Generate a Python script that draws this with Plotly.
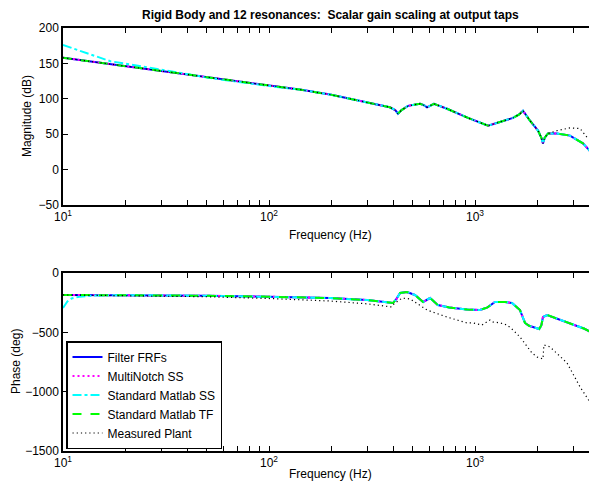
import plotly.graph_objects as go

# ---------------- data ----------------
# Magnitude of the fitted filters (Hz, dB)
f_mag = [10, 20, 50, 100, 141, 198, 286, 340, 386, 410,
         423, 440, 473, 541, 565, 585, 632, 731, 925, 1157,
         1368, 1529, 1640, 1710, 1760, 1849, 2023, 2100, 2138, 2180,
         2262, 2500, 2890, 3343, 3600, 3741, 3850, 3920]
mag_fit = [158, 146, 130, 118, 113, 106, 96, 92, 88, 84,
           79, 84, 90, 93, 91, 88, 93, 86, 73, 62,
           69, 73, 78, 83, 78, 69, 55, 45, 37, 45,
           51, 51, 48, 37, 27, 17, 8, 1]

# Standard Matlab SS deviates at low frequency
f_mag_ss_low = [10, 11, 13, 17, 24, 35]
mag_ss_low = [176, 172, 164, 153, 146, 138]

# Measured plant magnitude
f_mag_meas = [10, 20, 50, 100, 141, 198, 286, 340, 386, 410,
              423, 440, 473, 541, 565, 585, 632, 731, 925, 1157,
              1368, 1529, 1640, 1710, 1760, 1849, 2023, 2100, 2138, 2180,
              2262, 2500, 2890, 3236, 3490, 3820, 3920]
mag_meas = [158, 146, 130, 118, 113, 106, 96, 92, 88, 84,
            79, 84, 90, 93, 91, 88, 93, 86, 73, 62,
            69, 73, 78, 83, 78, 69, 55, 45, 37, 45,
            51, 55, 59, 58, 46, 37, 35]

# Phase of the fitted filters (Hz, deg)
f_ph = [10, 20, 50, 100, 198, 300, 386, 400, 415, 433,
        468, 511, 560, 605, 660, 750, 915, 1057, 1150, 1250,
        1400, 1512, 1653, 1749, 1830, 1914, 2049, 2100, 2138, 2240,
        2500, 2890, 3400, 3920]
ph_fit = [-185, -187, -192, -200, -211, -228, -245, -253, -220, -168,
          -160, -185, -244, -211, -270, -290, -308, -312, -290, -244,
          -245, -253, -312, -421, -445, -455, -472, -440, -371, -354,
          -385, -421, -470, -527]

f_ph_ss_low = [10, 10.5, 11, 12, 14]
ph_ss_low = [-295, -240, -215, -200, -190]

# Measured plant phase
f_ph_meas = [10, 20, 50, 100, 198, 300, 393, 405, 443, 485,
             585, 731, 915, 977, 1081, 1183, 1222, 1322, 1430, 1529,
             1653, 1891, 2000, 2138, 2160, 2313, 2500, 2797, 3236, 3488,
             3741, 3860, 3920]
ph_meas = [-185, -190, -200, -215, -236, -260, -286, -260, -211, -219,
           -312, -371, -421, -421, -438, -396, -413, -420, -438, -480,
           -539, -674, -708, -724, -606, -623, -680, -758, -960, -1045,
           -1129, -1264, -1400]

series_names = ["Filter FRFs", "MultiNotch SS", "Standard Matlab SS",
                "Standard Matlab TF", "Measured Plant"]
x_tick_vals = [10, 20, 30, 40, 50, 60, 70, 80, 90,
               100, 200, 300, 400, 500, 600, 700, 800, 900,
               1000, 2000, 3000]
x_tick_text = ["10<sup>1</sup>"] + [""] * 8 + ["10<sup>2</sup>"] + [""] * 8 + ["10<sup>3</sup>", "", ""]
mag_ticks = [-50, 0, 50, 100, 150, 200]
ph_ticks = [-1500, -1000, -500, 0]

# ---------------- figure ----------------
FONT = "Liberation Sans, Arial, Helvetica, sans-serif"
FS = 12
styles = [
    dict(color="#0000ff", width=2, dash="solid"),
    dict(color="#ff00ff", width=2, dash="2px,3px"),
    dict(color="#00ffff", width=2, dash="dashdot"),
    dict(color="#00ff00", width=2, dash="dash"),
    dict(color="#000000", width=1.2, dash="1.2px,3px"),
]

ss_mag_f = f_mag_ss_low + [f for f in f_mag if f > 35]
ss_mag_v = mag_ss_low + [v for f, v in zip(f_mag, mag_fit) if f > 35]
ss_ph_f = f_ph_ss_low + [f for f in f_ph if f > 14]
ss_ph_v = ph_ss_low + [v for f, v in zip(f_ph, ph_fit) if f > 14]

mag_sets = [(f_mag, mag_fit), (f_mag, mag_fit), (ss_mag_f, ss_mag_v),
            (f_mag, mag_fit), (f_mag_meas, mag_meas)]
ph_sets = [(f_ph, ph_fit), (f_ph, ph_fit), (ss_ph_f, ss_ph_v),
           (f_ph, ph_fit), (f_ph_meas, ph_meas)]

fig = go.Figure()
for name, st, (fx, fy) in zip(series_names, styles, mag_sets):
    fig.add_trace(go.Scatter(x=fx, y=fy, mode="lines", name=name, line=st,
                             xaxis="x", yaxis="y", showlegend=False))
for name, st, (fx, fy) in zip(series_names, styles, ph_sets):
    fig.add_trace(go.Scatter(x=fx, y=fy, mode="lines", name=name, line=st,
                             xaxis="x2", yaxis="y2", showlegend=True))

# the page body has an 8px margin on every side: the visible figure spans 8..589 x 8..481
OFF = 8
IMG_W, IMG_H = 597, 489
W, H = IMG_W - 2 * OFF, IMG_H - 2 * OFF
left_img, top_img, bottom_img, right_img = 63, 28, 451, OFF + W
ml, mr, mt, mb = left_img - OFF, 0, top_img - OFF, (OFF + H) - bottom_img
plot_h = bottom_img - top_img
plot_w = right_img - left_img
DECADE_PX = 206
x_end = 1 + plot_w / DECADE_PX


def py(pix):
    return (bottom_img - pix) / plot_h


def px(pix):
    return (pix - left_img) / plot_w


axis_common = dict(showline=True, linecolor="black", linewidth=1.5,
                   ticks="inside", ticklen=5, tickwidth=1,
                   tickcolor="black", showgrid=False, zeroline=False,
                   tickfont=dict(family=FONT, size=FS, color="black"))

fig.update_layout(
    width=W, height=H,
    margin=dict(l=ml, r=mr, t=mt, b=mb, autoexpand=False),
    paper_bgcolor="white", plot_bgcolor="white",
    font=dict(family=FONT, size=FS, color="black"),
    xaxis=dict(type="log", range=[1, x_end], domain=[0, 1], anchor="y", mirror="ticks",
               tickvals=x_tick_vals, ticktext=x_tick_text, **axis_common),
    yaxis=dict(range=[-50, 200], domain=[py(205), 1], anchor="x",
               tickvals=mag_ticks, **axis_common),
    xaxis2=dict(type="log", range=[1, x_end], domain=[0, 1], anchor="y2", mirror="ticks",
                tickvals=x_tick_vals, ticktext=x_tick_text, **axis_common),
    yaxis2=dict(range=[-1500, 0], domain=[0, py(273)], anchor="x2",
                tickvals=ph_ticks, **axis_common),
    legend=dict(x=px(66), y=py(449), xanchor="left", yanchor="bottom",
                bgcolor="white", bordercolor="black", borderwidth=1.5,
                font=dict(family=FONT, size=FS, color="black"),
                tracegroupgap=0),
    showlegend=True,
)

ann = [
    dict(text="<b>Rigid Body and 12 resonances: \u00a0Scalar gain scaling at output taps</b>",
         x=px(330), y=py(15), xref="paper", yref="paper", showarrow=False,
         xanchor="center", yanchor="middle", font=dict(family=FONT, size=FS)),
    dict(text="Frequency (Hz)", x=px(330), y=py(235), xref="paper", yref="paper",
         showarrow=False, xanchor="center", yanchor="middle", font=dict(family=FONT, size=FS)),
    dict(text="Frequency (Hz)", x=px(330), y=py(474), xref="paper", yref="paper",
         showarrow=False, xanchor="center", yanchor="middle", font=dict(family=FONT, size=FS)),
    dict(text="Magnitude (dB)", x=px(27), y=py(116), xref="paper", yref="paper",
         showarrow=False, xanchor="center", yanchor="middle", textangle=-90,
         font=dict(family=FONT, size=FS)),
    dict(text="Phase (deg)", x=px(16), y=py(362), xref="paper", yref="paper",
         showarrow=False, xanchor="center", yanchor="middle", textangle=-90,
         font=dict(family=FONT, size=FS)),
]
fig.update_layout(annotations=ann)

fig.write_html("out.html")
